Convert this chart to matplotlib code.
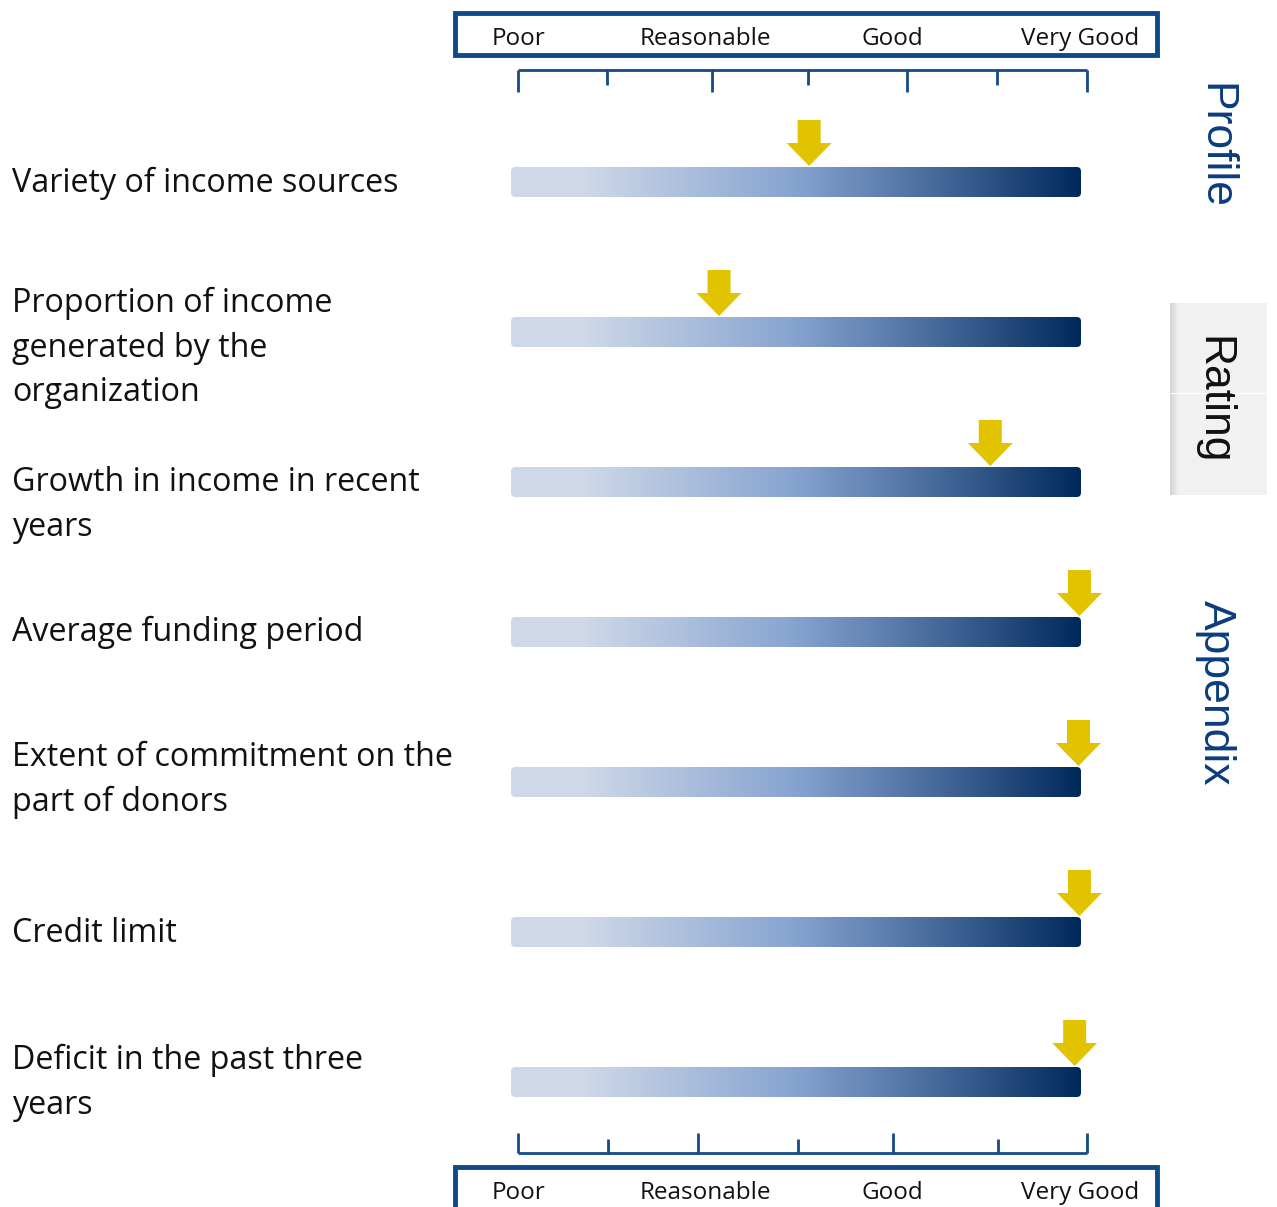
import numpy as np
import matplotlib
matplotlib.use('Agg')
import matplotlib.pyplot as plt
from matplotlib.colors import LinearSegmentedColormap
from matplotlib.patches import FancyBboxPatch, Rectangle, FancyArrow

# 数据
criteria = [
    'Variety of income sources',
    'Proportion of income\ngenerated by the\norganization',
    'Growth in income in recent\nyears',
    'Average funding period',
    'Extent of commitment on the\npart of donors',
    'Credit limit',
    'Deficit in the past three\nyears',
]
scores = [3.07, 2.12, 4.98, 5.92, 5.91, 5.92, 5.87]   # 0 = Poor ... 6 = Very Good
scale_labels = ['Poor', 'Reasonable', 'Good', 'Very Good']
scale_label_pos = [0.0, 1.98, 3.95, 5.93]
top_ticks = [0, 0.94, 2.05, 3.06, 4.10, 5.05, 6]
bottom_ticks = [0, 0.95, 1.90, 2.95, 3.95, 5.06, 6]
tabs = ['Profile', 'Rating', 'Appendix']

# 版面设置
W, H = 1277, 1207
NAVY = '#0d4a8a'
TEXT_BLUE = '#0b3c7d'
YELLOW = '#e2c300'
plt.rcParams['font.family'] = ['Open Sans', 'DejaVu Sans']

fig = plt.figure(figsize=(W / 100, H / 100), dpi=100)
ax = fig.add_axes([0, 0, 1, 1])
ax.axis('off')

# x: 0 -> pixel 518, 6 -> pixel 1087 ; y: row i -> pixel 182 + 150 i
unit_x = (1087 - 518) / 6.0
unit_y = 150.0
ax.set_xlim(-518 / unit_x, (W - 518) / unit_x)
ax.set_ylim((H - 182) / unit_y, -182 / unit_y)


def px(x, y):
    # pixel -> figure fraction (for layout boxes only)
    return x / W, 1 - y / H


cmap = LinearSegmentedColormap.from_list('bar', [
    (0.0, '#cfd9e9'), (0.13, '#ced8e8'), (0.5, '#86a3d0'),
    (0.75, '#46699b'), (1.0, '#00295b')])
grad = np.linspace(0, 1, 256).reshape(1, -1)

bar_x0, bar_x1 = -7 / unit_x, 6 - 6 / unit_x
bar_h = 30 / unit_y
label_shift = [1, 16, 23, 0, -2, 1, 1]

for i, (name, s) in enumerate(zip(criteria, scores)):
    y0 = i - bar_h / 2
    im = ax.imshow(grad, cmap=cmap, aspect='auto', interpolation='bilinear',
                   extent=[bar_x0, bar_x1, y0 + bar_h, y0], zorder=2)
    clip = FancyBboxPatch((bar_x0, y0), bar_x1 - bar_x0, bar_h,
                          boxstyle='round,pad=0,rounding_size=0.045',
                          mutation_aspect=unit_x / unit_y,
                          facecolor='none', edgecolor='none')
    ax.add_patch(clip)
    im.set_clip_path(clip)

    # 黄色箭头
    arr_len = 46 / unit_y
    ax.add_patch(FancyArrow(s, y0 - arr_len - 1 / unit_y, 0, arr_len,
                            width=23 / unit_x, head_width=45 / unit_x,
                            head_length=23 / unit_y, length_includes_head=True,
                            color=YELLOW, lw=0, zorder=3))

    ax.text(-506 / unit_x, i + label_shift[i] / unit_y, name, fontsize=23.2,
            ha='left', va='center', color='#111111', linespacing=1.47)

# 刻度线
tick_kw = dict(color='#154a86', lw=2, solid_capstyle='butt', clip_on=False)
y_top = -112 / unit_y
ax.plot([0, 6], [y_top, y_top], **tick_kw)
for k, t in enumerate(top_ticks):
    ln = 22 if k % 2 == 0 else 15
    ax.plot([t, t], [y_top, y_top + ln / unit_y], **tick_kw)
y_bot = 6 + (1148 - 1077) / unit_y
ax.plot([0, 6], [y_bot, y_bot], **tick_kw)
for k, t in enumerate(bottom_ticks):
    ln = 20 if k % 2 == 0 else 14
    ax.plot([t, t], [y_bot, y_bot - ln / unit_y], **tick_kw)

# 上下的等级框
for y_box, y_txt in [(13, 39), (1167, 1193)]:
    x0, y1 = px(455, y_box + 42)
    x1, y0 = px(1157, y_box)
    fig.patches.append(Rectangle((x0, y1), x1 - x0, y0 - y1,
                                 transform=fig.transFigure, fill=False,
                                 edgecolor=NAVY, lw=3.5))
    for lab, p in zip(scale_labels, scale_label_pos):
        ax.text(p, (y_txt - 182) / unit_y, lab, fontsize=17.5, ha='center',
                va='center', color='#111111')

# 右侧标签
gx, gy = px(1170, 495)
gx1, gy1 = px(1267, 303)
fig.patches.append(Rectangle((gx, gy), gx1 - gx, gy1 - gy,
                             transform=fig.transFigure, facecolor='#f1f1f1',
                             edgecolor='none'))
for k, c in enumerate(['#d4d4d4', '#dcdcdc', '#e4e4e4', '#eaeaea']):
    fig.patches.append(Rectangle((gx + k * 2 / W, gy), 2 / W, gy1 - gy,
                                 transform=fig.transFigure, facecolor=c,
                                 edgecolor='none'))
lx0, ly = px(1170, 393)
fig.lines.append(plt.Line2D([lx0, gx1], [ly, ly], transform=fig.transFigure,
                            color='white', lw=0.8))
for name, (tx, ty), col in zip(tabs, [(1215, 146), (1213, 400), (1215, 693)],
                               [TEXT_BLUE, '#111111', TEXT_BLUE]):
    fx, fy = px(tx, ty)
    fig.text(fx, fy, name, rotation=270, fontsize=32, ha='center',
             va='center', color=col, family=['Liberation Sans', 'DejaVu Sans'])

fig.savefig('out.png', dpi=100)
